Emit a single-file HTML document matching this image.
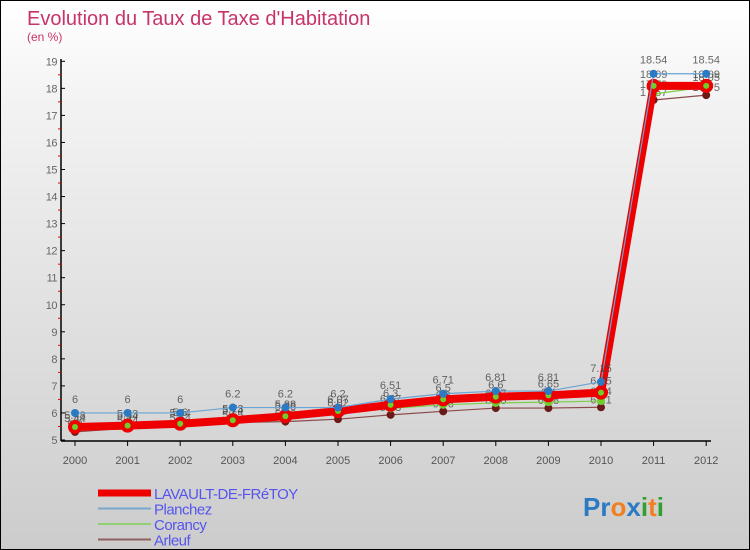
<!DOCTYPE html>
<html><head><meta charset="utf-8">
<style>
html,body{margin:0;padding:0;}
body{width:750px;height:550px;overflow:hidden;font-family:"Liberation Sans",sans-serif;}
#wrap{position:relative;width:748px;height:548px;border:1px solid #000;background:linear-gradient(#ffffff,#f2f2f2 20%,#d8d8d8 75%,#cccccc);}
svg{position:absolute;left:0;top:0;}
</style></head><body>
<div id="wrap">
<svg id="chart" width="748" height="548"></svg>
</div>
<script>
const years=[2000,2001,2002,2003,2004,2005,2006,2007,2008,2009,2010,2011,2012];
const lavault=[5.48,5.53,5.6,5.73,5.88,6.07,6.3,6.5,6.6,6.65,6.75,18.09,18.09];
const planchez=[6,6,6,6.2,6.2,6.2,6.51,6.71,6.81,6.81,7.15,18.54,18.54];
const corancy=[5.44,5.54,5.64,5.74,5.88,6.02,6.17,6.3,6.37,6.4,6.44,17.79,18.05];
const arleuf=[5.3,5.44,5.54,5.65,5.68,5.77,5.93,6.06,6.18,6.18,6.21,17.57,17.75];
const yTicks=[5,6,7,8,9,10,11,12,13,14,15,16,17,18,19];

const svg=document.getElementById('chart');
const NS='http://www.w3.org/2000/svg';
function mk(tag,attrs,parent){const e=document.createElementNS(NS,tag);for(const k in attrs)e.setAttribute(k,attrs[k]);(parent||svg).appendChild(e);return e;}
const x0=74,xStep=52.6,yBase=439,yUnit=27.05,yMin=5;
const X=i=>x0+i*xStep;
const Y=v=>yBase-(v-yMin)*yUnit;

// title
let t=mk('text',{x:26,y:24,'font-size':20,fill:'#c8336a'});t.textContent="Evolution du Taux de Taxe d'Habitation";


t=mk('text',{x:26,y:40,'font-size':12,fill:'#c8336a'});t.textContent="(en %)";



// axes
let ax=mk('line',{x1:60,y1:58,x2:60,y2:440,stroke:'#000','stroke-width':1.5});


ax=mk('line',{x1:60,y1:440,x2:710,y2:440,stroke:'#000','stroke-width':1.5});


yTicks.forEach((v,i)=>{
  mk('line',{x1:60,y1:Y(v),x2:64,y2:Y(v),stroke:'#000'});
  if(i<yTicks.length-1) mk('line',{x1:57,y1:Y(v+0.5),x2:60,y2:Y(v+0.5),stroke:'#e00'});
  const l=mk('text',{x:56,y:Y(v)+4,'font-size':11,fill:'#666','text-anchor':'end','letter-spacing':'-0.5'});l.textContent=v;
  
  
});
years.forEach((yr,i)=>{
  mk('line',{x1:X(i),y1:440,x2:X(i),y2:445,stroke:'#000'});
  const l=mk('text',{x:X(i),y:463,'font-size':11,fill:'#555','text-anchor':'middle'});l.textContent=yr;
  
  
});

function series(vals,color,width,name,dot,dotR,labelOff){
  const g=mk('g',{});
  
  
  const p=mk('polyline',{points:vals.map((v,i)=>X(i)+','+Y(v)).join(' '),fill:'none',stroke:color,'stroke-width':width,'stroke-linejoin':'round'},g);
  
  
  vals.forEach((v,i)=>{
    const c=mk('circle',{cx:X(i),cy:Y(v),r:dotR,fill:dot},g);
    
    
    const l=mk('text',{x:X(i),y:Y(v)+labelOff,'font-size':11,fill:'#444','text-anchor':'middle','fill-opacity':0.8},g);
    l.textContent=v;
    
    
  });
}
series(arleuf,'#8b4a4a',1.2,'arleuf','#6b1a1a',4,-4);
series(corancy,'#7ccf4a',1.2,'corancy','#6ccf2a',4,-6);
series(lavault,'#ee0000',8,'lavault','#ee0000',7,-8);
// inner dot for lavault
lavault.forEach((v,i)=>{const c=mk('circle',{cx:X(i),cy:Y(v),r:3,fill:'#6ccf2a'});
  
  });
series(planchez,'#6aa4d4',1.2,'planchez','#2a7ac4',4,-10);

// legend
const leg=[['LAVAULT-DE-FRéTOY','#ee0000',7],['Planchez','#7aa8cc',2],['Corancy','#90d070',2],['Arleuf','#906060',2]];
leg.forEach((d,i)=>{
  const y=492+i*15.5;
  const g=mk('g',{});
  
  
  mk('line',{x1:97,y1:y,x2:150,y2:y,stroke:d[1],'stroke-width':d[2]},g);
  const l=mk('text',{x:153,y:y+6,'font-size':15,fill:'#5555ee','letter-spacing':'-0.5'},g);l.textContent=d[0];
});
// logo
const logo=mk('text',{x:582,y:515,'font-size':26,'font-weight':'bold'});


[['Pr','#2a7ac4'],['o','#f08020'],['x','#2a7ac4'],['i','#30a030'],['t','#f08020'],['i','#30a030']].forEach(s=>{const ts=mk('tspan',{fill:s[1]},logo);ts.textContent=s[0];});
</script>
</body></html>
